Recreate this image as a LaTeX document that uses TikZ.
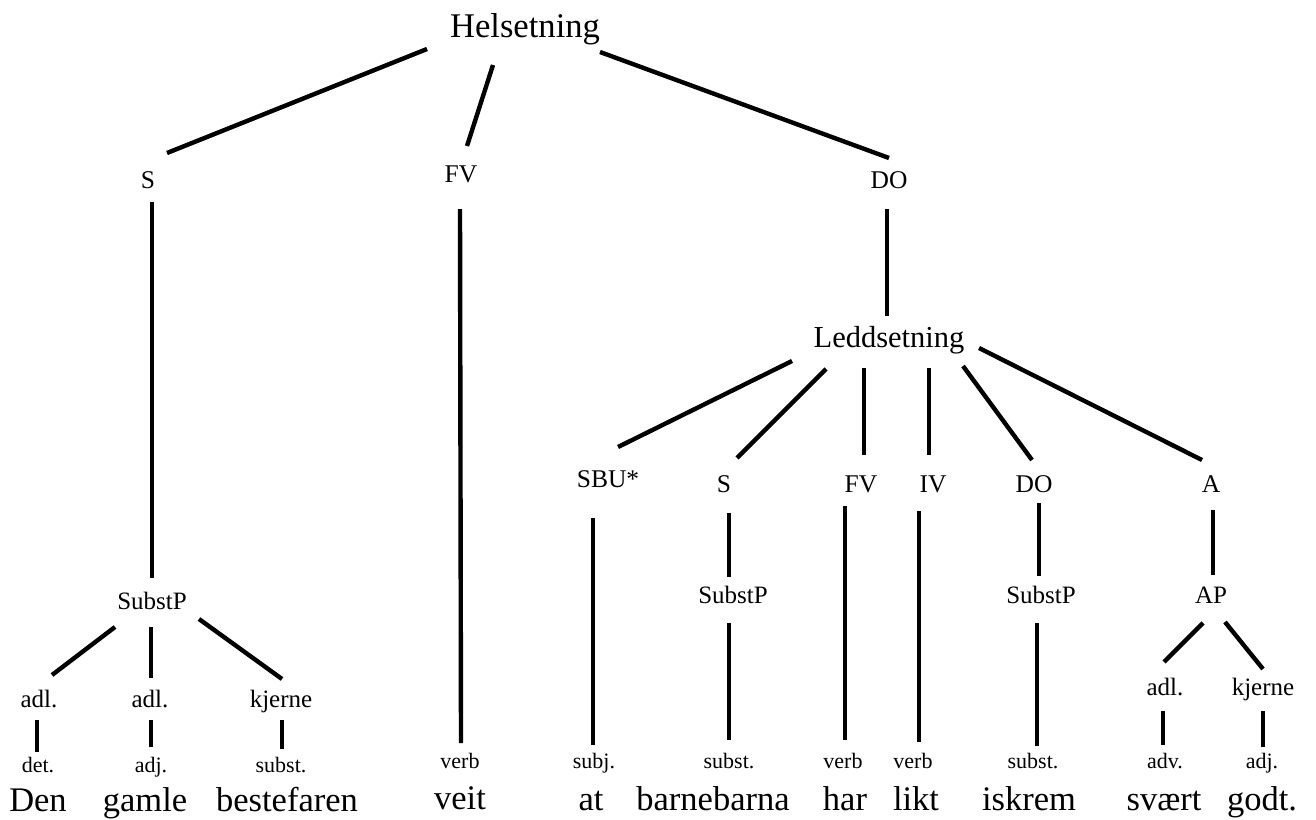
\documentclass[tikz,border=0pt]{standalone}
\usepackage{fontspec}
\setmainfont{Liberation Serif}
\usetikzlibrary{calc}
\tikzset{
  txt/.style={inner sep=0pt, outer sep=0pt, anchor=base, text=black},
  bigl/.style={txt, font=\fontsize{34.6}{40}\selectfont},
  ledl/.style={txt, font=\fontsize{30.5}{36}\selectfont},
  lab/.style={txt, font=\fontsize{25.5}{30}\selectfont},
  midl/.style={txt, font=\fontsize{25}{30}\selectfont},
  smalll/.style={txt, font=\fontsize{22}{26}\selectfont},
  wordl/.style={txt, font=\fontsize{34.5}{40}\selectfont},
  edge/.style={draw=black, line width=4.4pt}
}
\newcommand\edgeline[4]{\draw[edge] ($(#1.base)+(#2)$) -- ($(#3.base)+(#4)$);}
\begin{document}
\begin{tikzpicture}[x=1pt,y=-1pt]
\useasboundingbox[fill=white] (0,0) rectangle (1316,819);
% top
\node[bigl] (hel) at (525,37) {Helsetning};
\node[lab] (s1) at (148,188) {S};
\node[lab] (fv1) at (461,182) {FV};
\node[lab] (do1) at (889,188) {DO};
% left branch
\node[midl] (sp1) at (152,609) {SubstP};
\node[midl] (a1) at (39,707) {adl.};
\node[midl] (a2) at (150,707) {adl.};
\node[midl] (k1) at (281,707) {kjerne};
\node[smalll] (p1) at (38,772) {det.};
\node[smalll] (p2) at (151,772) {adj.};
\node[smalll] (p3) at (281,772) {subst.};
\node[wordl] (w1) at (38,811) {Den};
\node[wordl] (w2) at (145,811) {gamle};
\node[wordl] (w3) at (287,811) {bestefaren};
% FV branch
\node[smalll] (pv) at (460,768) {verb};
\node[wordl] (wv) at (460,809) {veit};
% DO branch
\node[ledl] (led) at (889,347) {Leddsetning};
\node[lab] (sbu) at (608,487) {SBU*};
\node[lab] (s2) at (724,492) {S};
\node[lab] (fv2) at (861,492) {FV};
\node[lab] (iv) at (933,492) {IV};
\node[lab] (do2) at (1034,492) {DO};
\node[lab] (aa) at (1211,492) {A};
\node[midl] (sp2) at (733,603) {SubstP};
\node[midl] (sp3) at (1041,603) {SubstP};
\node[midl] (ap) at (1211,603) {AP};
\node[midl] (a3) at (1165,695) {adl.};
\node[midl] (k2) at (1263,695) {kjerne};
\node[smalll] (p4) at (594,768) {subj.};
\node[smalll] (p5) at (729,768) {subst.};
\node[smalll] (p6) at (843,768) {verb};
\node[smalll] (p7) at (913,768) {verb};
\node[smalll] (p8) at (1033,768) {subst.};
\node[smalll] (p9) at (1165,768) {adv.};
\node[smalll] (p10) at (1262,768) {adj.};
\node[wordl] (w4) at (591,810) {at};
\node[wordl] (w5) at (713,810) {barnebarna};
\node[wordl] (w6) at (845,810) {har};
\node[wordl] (w7) at (916,810) {likt};
\node[wordl] (w8) at (1029,810) {iskrem};
\node[wordl] (w9) at (1164,810) {svært};
\node[wordl] (w10) at (1262,810) {godt.};
% connectors
\edgeline{hel}{-98,12}{s1}{19,-35}
\edgeline{hel}{-32,28}{fv1}{6,-36}
\edgeline{hel}{75,15}{do1}{0,-30}
\edgeline{s1}{4,14}{sp1}{0,-31}
\edgeline{fv1}{-1,27}{pv}{1,-25}
\edgeline{do1}{-2,21}{led}{-2,-31}
\edgeline{sp1}{-37,18}{a1}{13,-32}
\edgeline{sp1}{-1,18}{a2}{1,-29}
\edgeline{sp1}{47,10}{k1}{1,-28}
\edgeline{a1}{-2,13}{p1}{-1,-20}
\edgeline{a2}{1,13}{p2}{0,-25}
\edgeline{k1}{1,13}{p3}{1,-23}
\edgeline{led}{-97,14}{sbu}{10,-40}
\edgeline{led}{-63,22}{s2}{13,-34}
\edgeline{led}{-25,21}{fv2}{3,-37}
\edgeline{led}{40,21}{iv}{-4,-37}
\edgeline{led}{74,19}{do2}{-2,-32}
\edgeline{led}{90,1}{aa}{-9,-32}
\edgeline{sbu}{-15,31}{p4}{-1,-23}
\edgeline{s2}{5,21}{sp2}{-4,-26}
\edgeline{sp2}{-4,20}{p5}{0,-28}
\edgeline{fv2}{-16,14}{p6}{2,-28}
\edgeline{iv}{-14,19}{p7}{6,-26}
\edgeline{do2}{5,11}{sp3}{-2,-27}
\edgeline{sp3}{-4,20}{p8}{4,-22}
\edgeline{aa}{2,18}{ap}{2,-28}
\edgeline{ap}{-8,20}{a3}{-1,-33}
\edgeline{ap}{14,19}{k2}{0,-26}
\edgeline{a3}{-2,16}{p9}{-2,-23}
\edgeline{k2}{0,16}{p10}{1,-21}
\end{tikzpicture}
\end{document}
